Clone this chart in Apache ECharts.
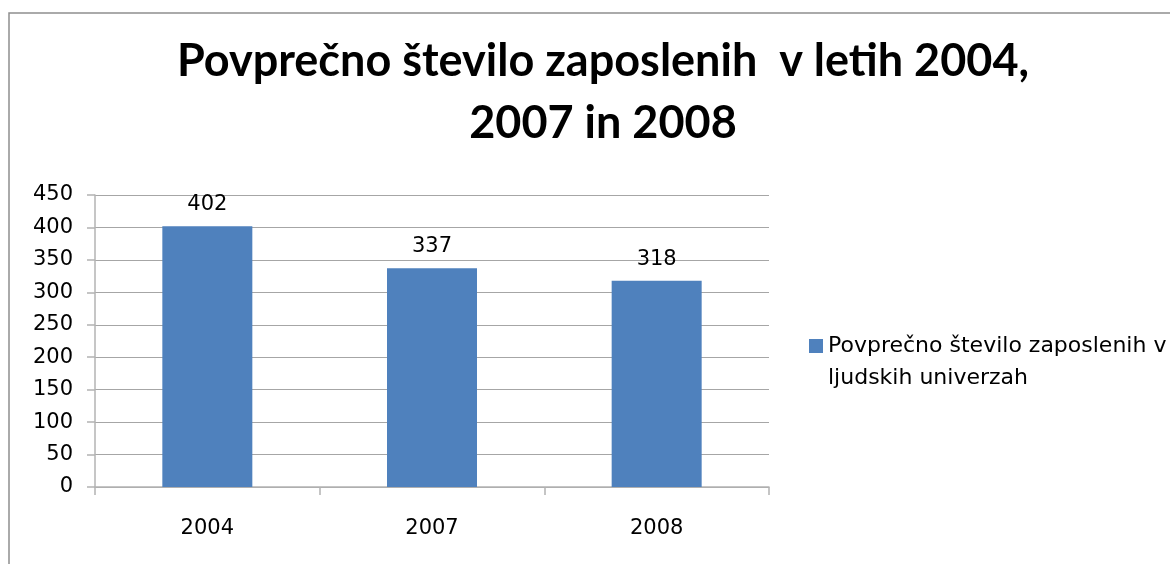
<!DOCTYPE html>
<html>
<head>
<meta charset="utf-8">
<script src="https://cdn.jsdelivr.net/npm/echarts@6/dist/echarts.min.js"></script>
<style>html,body{margin:0;padding:0;background:#fff}#c{width:1170px;height:564px}</style>
</head>
<body>
<div id="c"></div>
<script>
const titleText = 'Povprečno število zaposlenih  v letih 2004,\n2007 in 2008';
const categories = ['2004', '2007', '2008'];
const seriesName = 'Povprečno število zaposlenih v ljudskih univerzah';
const legendLines = ['Povprečno število zaposlenih v', 'ljudskih univerzah'];
const values = [402, 337, 318];
const yTicks = { min: 0, max: 450, interval: 50 };

const LEG_LH = 32;
const chart = echarts.init(document.getElementById('c'), null, { renderer: 'canvas' });
chart.setOption({
  backgroundColor: '#ffffff',
  animation: false,
  graphic: [{
    type: 'rect', silent: true, z: -1,
    shape: { x: 9, y: 13, width: 1250, height: 650 },
    style: { fill: 'none', stroke: '#8e8e8e', lineWidth: 1.5 }
  }],
  title: {
    text: titleText,
    left: 598, top: 25, textAlign: 'center',
    textStyle: { fontFamily: 'Lato', fontWeight: 'bold', fontSize: 45, lineHeight: 62, color: '#000' }
  },
  legend: {
    left: 804, top: 325, orient: 'vertical',
    itemWidth: 14, itemHeight: LEG_LH + 14,
    icon: 'path://M0,0h14v14h-14z M0,' + (LEG_LH + 14) + 'h14v0.001h-14z',
    formatter: () => legendLines.join('\n'),
    textStyle: { fontFamily: 'DejaVu Sans', fontSize: 22, lineHeight: LEG_LH, color: '#000' }
  },
  grid: { left: 95, right: 401, top: 195, bottom: 77, containLabel: false },
  xAxis: {
    type: 'category', data: categories,
    axisLine: { lineStyle: { color: '#b3b3b3', width: 1.5 } },
    axisTick: { show: true, length: 8, interval: 0, lineStyle: { color: '#b3b3b3', width: 1.5 } },
    axisLabel: { margin: 31, fontFamily: 'DejaVu Sans', fontSize: 21, color: '#000' },
    splitLine: { show: false }
  },
  yAxis: {
    type: 'value', min: yTicks.min, max: yTicks.max, interval: yTicks.interval,
    axisLine: { show: true, lineStyle: { color: '#b3b3b3', width: 1.5 } },
    axisTick: { show: true, length: 8, lineStyle: { color: '#b3b3b3', width: 1.5 } },
    axisLabel: { margin: 22, fontFamily: 'DejaVu Sans', fontSize: 21, color: '#000' },
    splitLine: { show: true, lineStyle: { color: '#a6a6a6', width: 1.2 } }
  },
  series: [{
    name: seriesName,
    type: 'bar',
    data: values,
    barWidth: 90,
    itemStyle: { color: '#4F81BD' },
    label: { show: true, position: 'top', distance: 11, fontFamily: 'DejaVu Sans', fontSize: 21, color: '#000' }
  }]
});
</script>
</body>
</html>
